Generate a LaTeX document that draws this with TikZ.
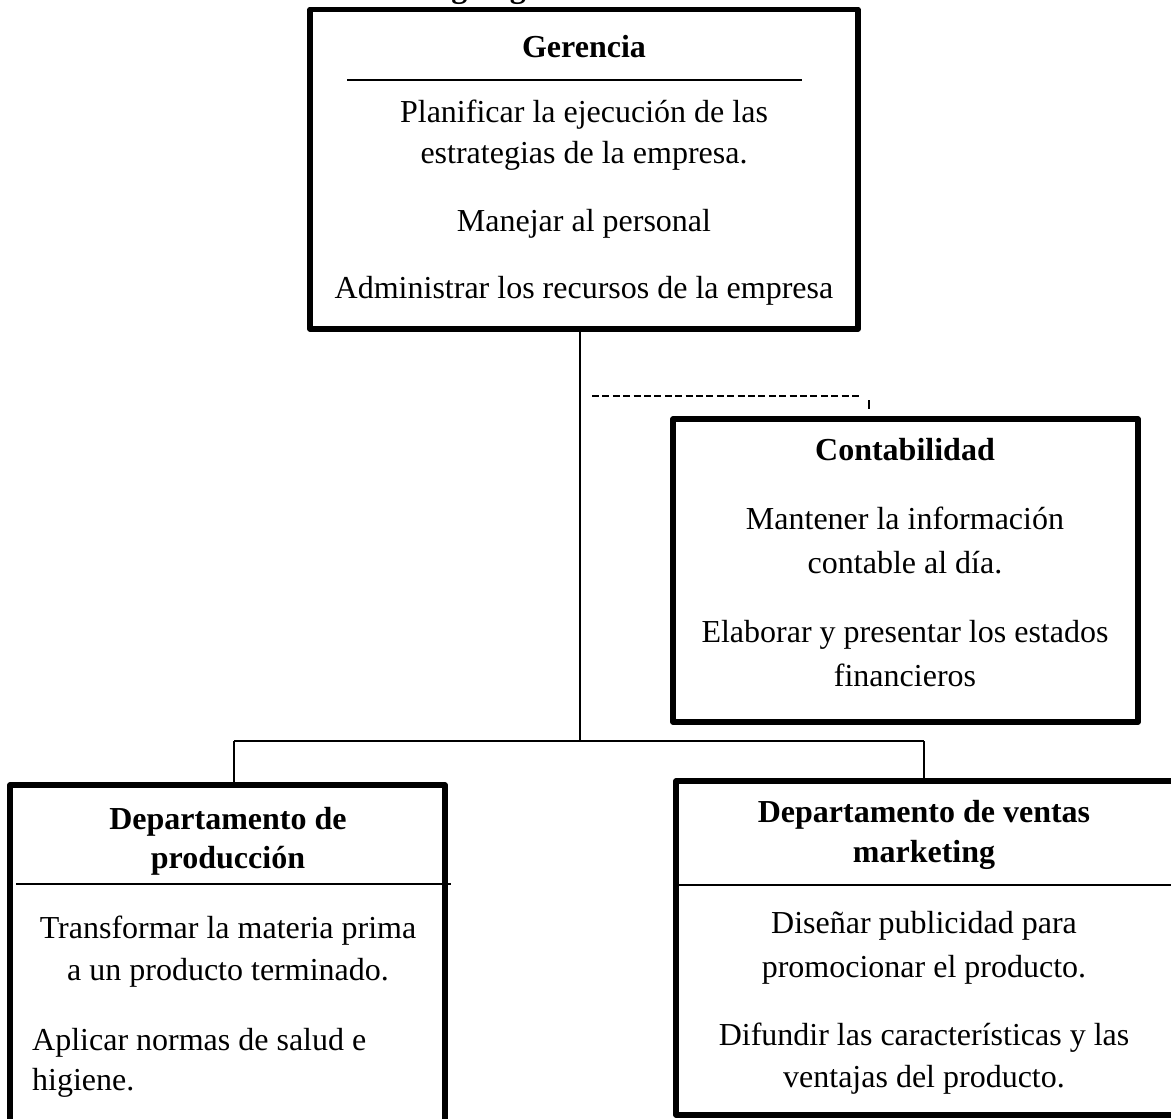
\documentclass[tikz,border=0pt]{standalone}
\usepackage{fontspec}
\setmainfont{Liberation Serif}
\begin{document}
\begin{tikzpicture}[x=1pt,y=-1pt,
  box/.style={draw,line width=5.5pt,line join=round,inner sep=0pt,outer sep=0pt},
  rule/.style={line width=2pt},
  link/.style={line width=2pt},
  dashlink/.style={line width=1.8pt,dash pattern=on 7pt off 3.4pt},
  txt/.style={anchor=base,inner sep=0pt,font=\fontsize{32}{38.5}\selectfont},
  head/.style={txt,font=\fontsize{32}{38.5}\selectfont\bfseries},
  txtl/.style={txt,anchor=base west}]
\useasboundingbox (0,0) rectangle (1171,1119);
\begin{scope}
\clip (0,0) rectangle (1171,1119);

% title (mostly above the page)
\node[head,anchor=base west] (title) at (412,-2.5) {Organigrama};

% boxes
\node[box,minimum width=548pt,minimum height=319.5pt] (ger) at (584,169.25) {};
\node[box,minimum width=465pt,minimum height=303pt] (cont) at (905.5,570.5) {};
\node[box,minimum width=435pt,minimum height=345pt] (prod) at (227.5,957.5) {};
\node[box,minimum width=497.5pt,minimum height=334pt] (vent) at (924.75,948) {};

% header rules
\draw[rule] (347,80) -- (802,80);
\draw[rule] (16,884) -- (451,884);
\draw[rule] (vent.west |- 0,885) -- (1171,885);

% connectors
\coordinate (split) at (580,741);
\coordinate (pdrop) at (234,741);
\coordinate (vdrop) at (924,741);
\draw[link] (split |- ger.south) -- (split);
\draw[link] (pdrop) -- (vdrop);
\draw[link] (pdrop) -- (pdrop |- prod.north);
\draw[link] (vdrop) -- (vdrop |- vent.north);

\coordinate (dl) at (592,396);
\coordinate (dr) at (862,396);
\coordinate (tk1) at (869,400);
\coordinate (tk2) at (869,409);
\draw[dashlink] (dl) -- (dr);
\draw[line width=1.5pt] (tk1) -- (tk2);

% Gerencia
\node[head] (g0) at (584,57) {Gerencia};
\node[txt] (g1) at (584,122) {Planificar la ejecución de las};
\node[txt] (g2) at (584,163) {estrategias de la empresa.};
\node[txt] (g3) at (584,231) {Manejar al personal};
\node[txt] (g4) at (584,298) {Administrar los recursos de la empresa};

% Contabilidad
\node[head] (c0) at (905,460) {Contabilidad};
\node[txt] (c1) at (905,529) {Mantener la información};
\node[txt] (c2) at (905,573) {contable al día.};
\node[txt] (c3) at (905,642) {Elaborar y presentar los estados};
\node[txt] (c4) at (905,686) {financieros};

% Departamento de producción
\node[head] (p0) at (228,829) {Departamento de};
\node[head] (p1) at (228,868) {producción};
\node[txt] (p2) at (228,938) {Transformar la materia prima};
\node[txt] (p3) at (228,980) {a un producto terminado.};
\node[txtl] (p4) at (32,1050) {Aplicar normas de salud e};
\node[txtl] (p5) at (32,1090) {higiene.};

% Departamento de ventas
\node[head] (v0) at (924,822) {Departamento de ventas};
\node[head] (v1) at (924,862) {marketing};
\node[txt] (v2) at (924,933) {Diseñar publicidad para};
\node[txt] (v3) at (924,977) {promocionar el producto.};
\node[txt] (v4) at (924,1045) {Difundir las características y las};
\node[txt] (v5) at (924,1087) {ventajas del producto.};
\end{scope}
\end{tikzpicture}
\end{document}
